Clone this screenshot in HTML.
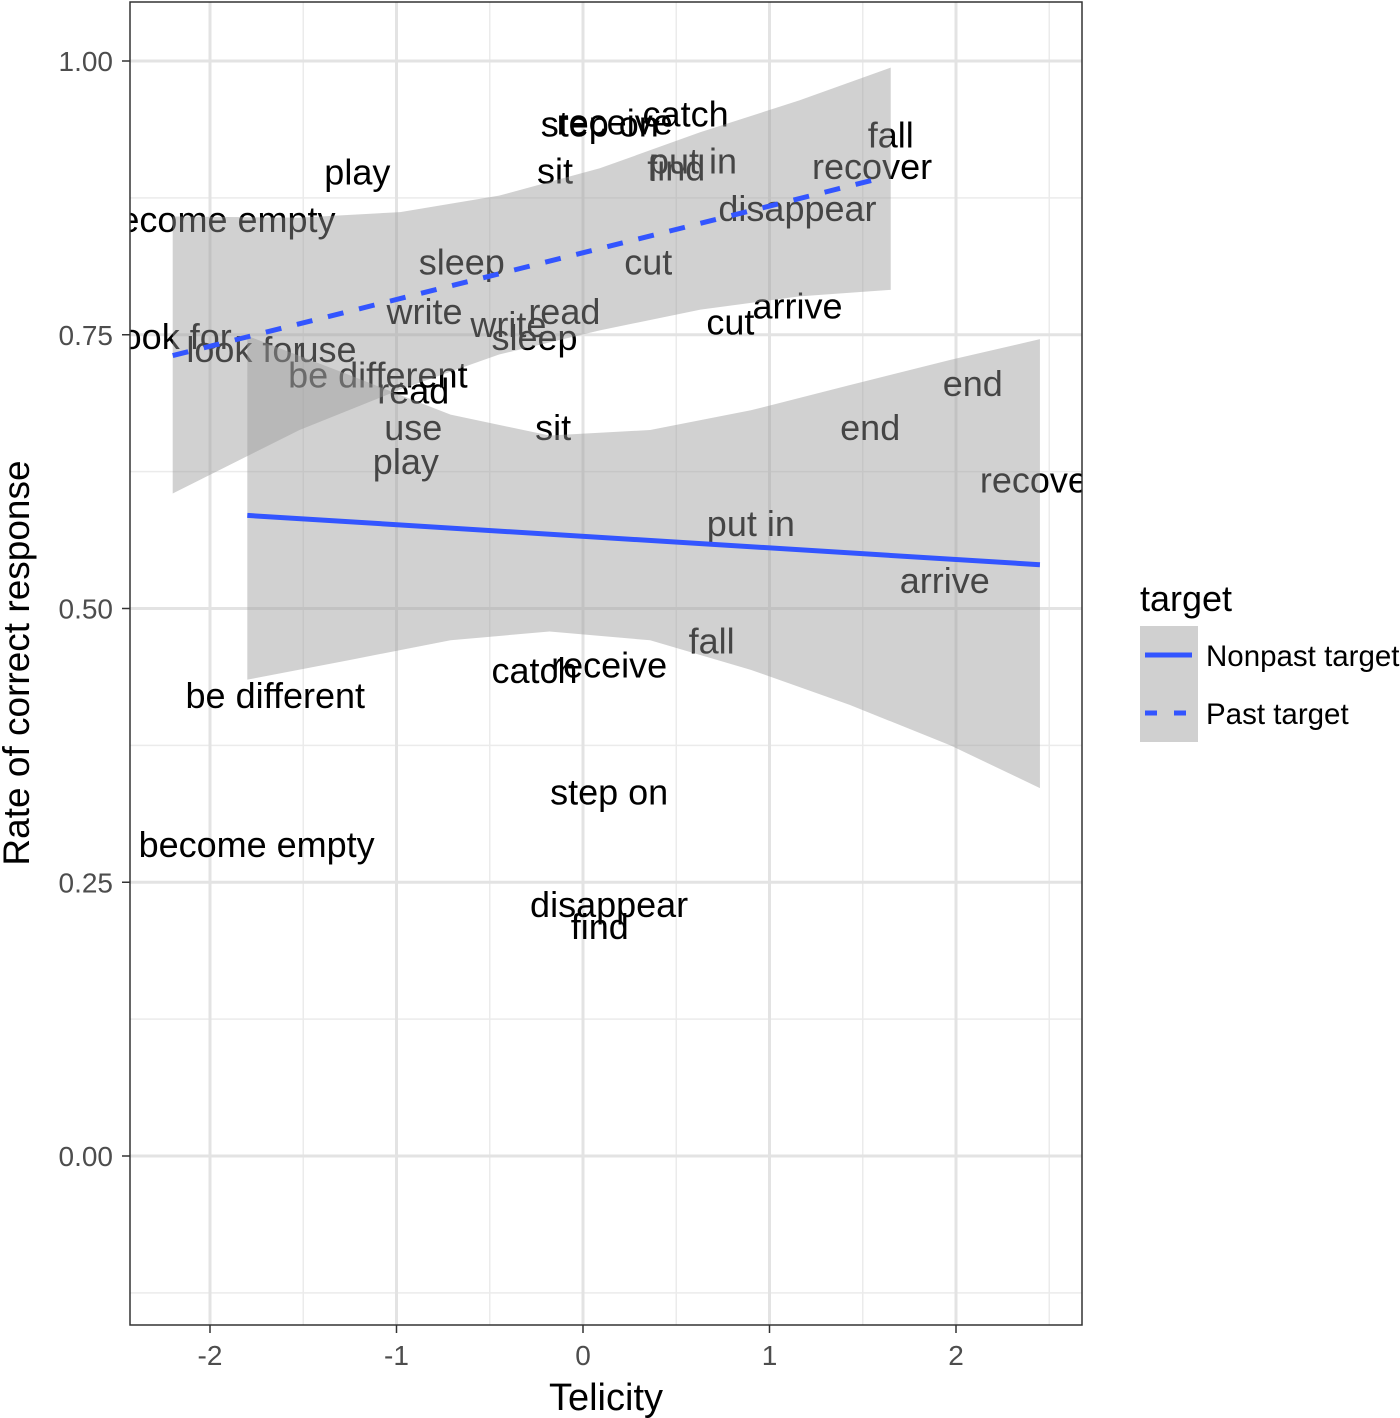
<!DOCTYPE html>
<html><head><meta charset="utf-8">
<style>
html,body{margin:0;padding:0;background:#fff;}
svg{display:block;font-family:"Liberation Sans",Arial,sans-serif;}
</style></head>
<body>
<svg id="chart" width="1400" height="1418" viewBox="0 0 1400 1418" xmlns="http://www.w3.org/2000/svg">
<defs><clipPath id="pc"><rect x="130" y="2" width="952" height="1323"/></clipPath></defs>
<rect x="130" y="2" width="952" height="1323" fill="#fff"/>
<g id="grid"></g>
<g id="labels" clip-path="url(#pc)"></g>
<g id="ribbons" clip-path="url(#pc)"></g>
<g id="lines" clip-path="url(#pc)"></g>
<rect x="130" y="2" width="952" height="1323" fill="none" stroke="#333" stroke-width="1.5"/>
<g id="axes"></g>
<text x="606" y="1410" font-size="38" text-anchor="middle" fill="#000">Telicity</text>
<text transform="translate(29,663) rotate(-90)" font-size="37" text-anchor="middle" fill="#000">Rate of correct response</text>
<g>
<text x="1140" y="611" font-size="36" fill="#000">target</text>
<rect x="1140" y="626" width="58" height="116" fill="#d0d0d0"/>
<line x1="1145" y1="655" x2="1192" y2="655" stroke="#3355ff" stroke-width="5"/>
<line x1="1145" y1="713" x2="1192" y2="713" stroke="#3355ff" stroke-width="5" stroke-dasharray="12,17"/>
<text x="1206" y="666" font-size="29.5" fill="#000">Nonpast target</text>
<text x="1206" y="724" font-size="29.5" fill="#000">Past target</text>
</g>
</svg>
<script>
const xTicks=[-2,-1,0,1,2];
const yTicks=[0,0.25,0.5,0.75,1.0];
const yTickLabels=["0.00","0.25","0.50","0.75","1.00"];
const labelWords=["step on","receive","catch","fall","play","sit","put in","find","recover","become empty","disappear","sleep","cut","write","write","read","sleep","cut","arrive","look for","look for","use","be different","read","use","sit","end","end","play","recover","put in","arrive","fall","catch","receive","be different","step on","become empty","disappear","find"];
const labelX=[0.09,0.17,0.55,1.65,-1.21,-0.15,0.59,0.50,1.55,-1.96,1.15,-0.65,0.35,-0.85,-0.40,-0.10,-0.26,0.79,1.15,-2.20,-1.81,-1.37,-1.10,-0.91,-0.91,-0.16,2.09,1.54,-0.95,2.45,0.90,1.94,0.69,-0.26,0.14,-1.65,0.14,-1.75,0.14,0.09];
const labelY=[0.942,0.944,0.951,0.932,0.898,0.899,0.908,0.902,0.903,0.855,0.865,0.816,0.816,0.771,0.759,0.771,0.747,0.761,0.776,0.748,0.736,0.736,0.713,0.698,0.665,0.665,0.705,0.665,0.634,0.617,0.577,0.525,0.470,0.443,0.448,0.420,0.332,0.284,0.229,0.209];
const pastX=[-2.20,-1.52,-0.98,-0.45,0.09,0.63,1.16,1.65];
const pastUpper=[0.858,0.857,0.862,0.877,0.902,0.935,0.964,0.994];
const pastLower=[0.605,0.663,0.700,0.732,0.754,0.773,0.785,0.791];
const pastLineX=[-2.20,1.62];
const pastLineY=[0.731,0.894];
const nonX=[-1.80,-1.25,-0.71,-0.18,0.36,0.90,1.43,1.97,2.45];
const nonUpper=[0.749,0.713,0.677,0.658,0.663,0.681,0.704,0.727,0.746];
const nonLower=[0.435,0.453,0.471,0.479,0.471,0.444,0.412,0.375,0.336];
const nonLineX=[-1.80,2.45];
const nonLineY=[0.585,0.540];

const NS="http://www.w3.org/2000/svg";
const sx=v=>583+v*186.5;
const sy=v=>1156-v*1095;
function mk(tag,attrs,parent){const e=document.createElementNS(NS,tag);for(const k in attrs)e.setAttribute(k,attrs[k]);parent.appendChild(e);return e;}
const grid=document.getElementById('grid');
[-1.5,-0.5,0.5,1.5,2.5].forEach(v=>{const l=mk('line',{x1:sx(v),x2:sx(v),y1:2,y2:1325,stroke:'#ebebeb','stroke-width':1.5},grid);

});
[-0.125,0.125,0.375,0.625,0.875].forEach(v=>{const l=mk('line',{x1:130,x2:1082,y1:sy(v),y2:sy(v),stroke:'#ebebeb','stroke-width':1.5},grid);

});
xTicks.forEach(v=>{const l=mk('line',{x1:sx(v),x2:sx(v),y1:2,y2:1325,stroke:'#e3e3e3','stroke-width':3},grid);

});
yTicks.forEach(v=>{const l=mk('line',{x1:130,x2:1082,y1:sy(v),y2:sy(v),stroke:'#e3e3e3','stroke-width':3},grid);

});
const axes=document.getElementById('axes');
xTicks.forEach(v=>{const t=mk('line',{x1:sx(v),x2:sx(v),y1:1325,y2:1333,stroke:'#333','stroke-width':1.5},axes);


const tx=mk('text',{x:sx(v),y:1365,'font-size':28,'text-anchor':'middle',fill:'#4d4d4d'},axes);tx.textContent=String(v);

});
yTicks.forEach((v,i)=>{const t=mk('line',{x1:122,x2:130,y1:sy(v),y2:sy(v),stroke:'#333','stroke-width':1.5},axes);


const tx=mk('text',{x:113,y:sy(v)+10,'font-size':28,'text-anchor':'end',fill:'#4d4d4d'},axes);tx.textContent=yTickLabels[i];

});
const lg=document.getElementById('labels');
labelWords.forEach((w,i)=>{const t=mk('text',{x:sx(labelX[i]),y:sy(labelY[i])+12,'font-size':36,'text-anchor':'middle',fill:'#000'},lg);t.textContent=w;

});
function ribbon(xs,up,lo,name){const g=document.getElementById('ribbons');let d='';
xs.forEach((x,i)=>{d+=(i?'L':'M')+sx(x)+','+sy(up[i]);});
for(let i=xs.length-1;i>=0;i--)d+='L'+sx(xs[i])+','+sy(lo[i]);d+='Z';
const p=mk('path',{d:d,fill:'#999','fill-opacity':0.45},g);

}
ribbon(pastX,pastUpper,pastLower,'past-ribbon');
ribbon(nonX,nonUpper,nonLower,'nonpast-ribbon');
const lines=document.getElementById('lines');
const l1=mk('line',{x1:sx(nonLineX[0]),y1:sy(nonLineY[0]),x2:sx(nonLineX[1]),y2:sy(nonLineY[1]),stroke:'#3355ff','stroke-width':5},lines);


const l2=mk('line',{x1:sx(pastLineX[0]),y1:sy(pastLineY[0]),x2:sx(pastLineX[1]),y2:sy(pastLineY[1]),stroke:'#3355ff','stroke-width':5,'stroke-dasharray':'16,16'},lines);


</script>
</body></html>
